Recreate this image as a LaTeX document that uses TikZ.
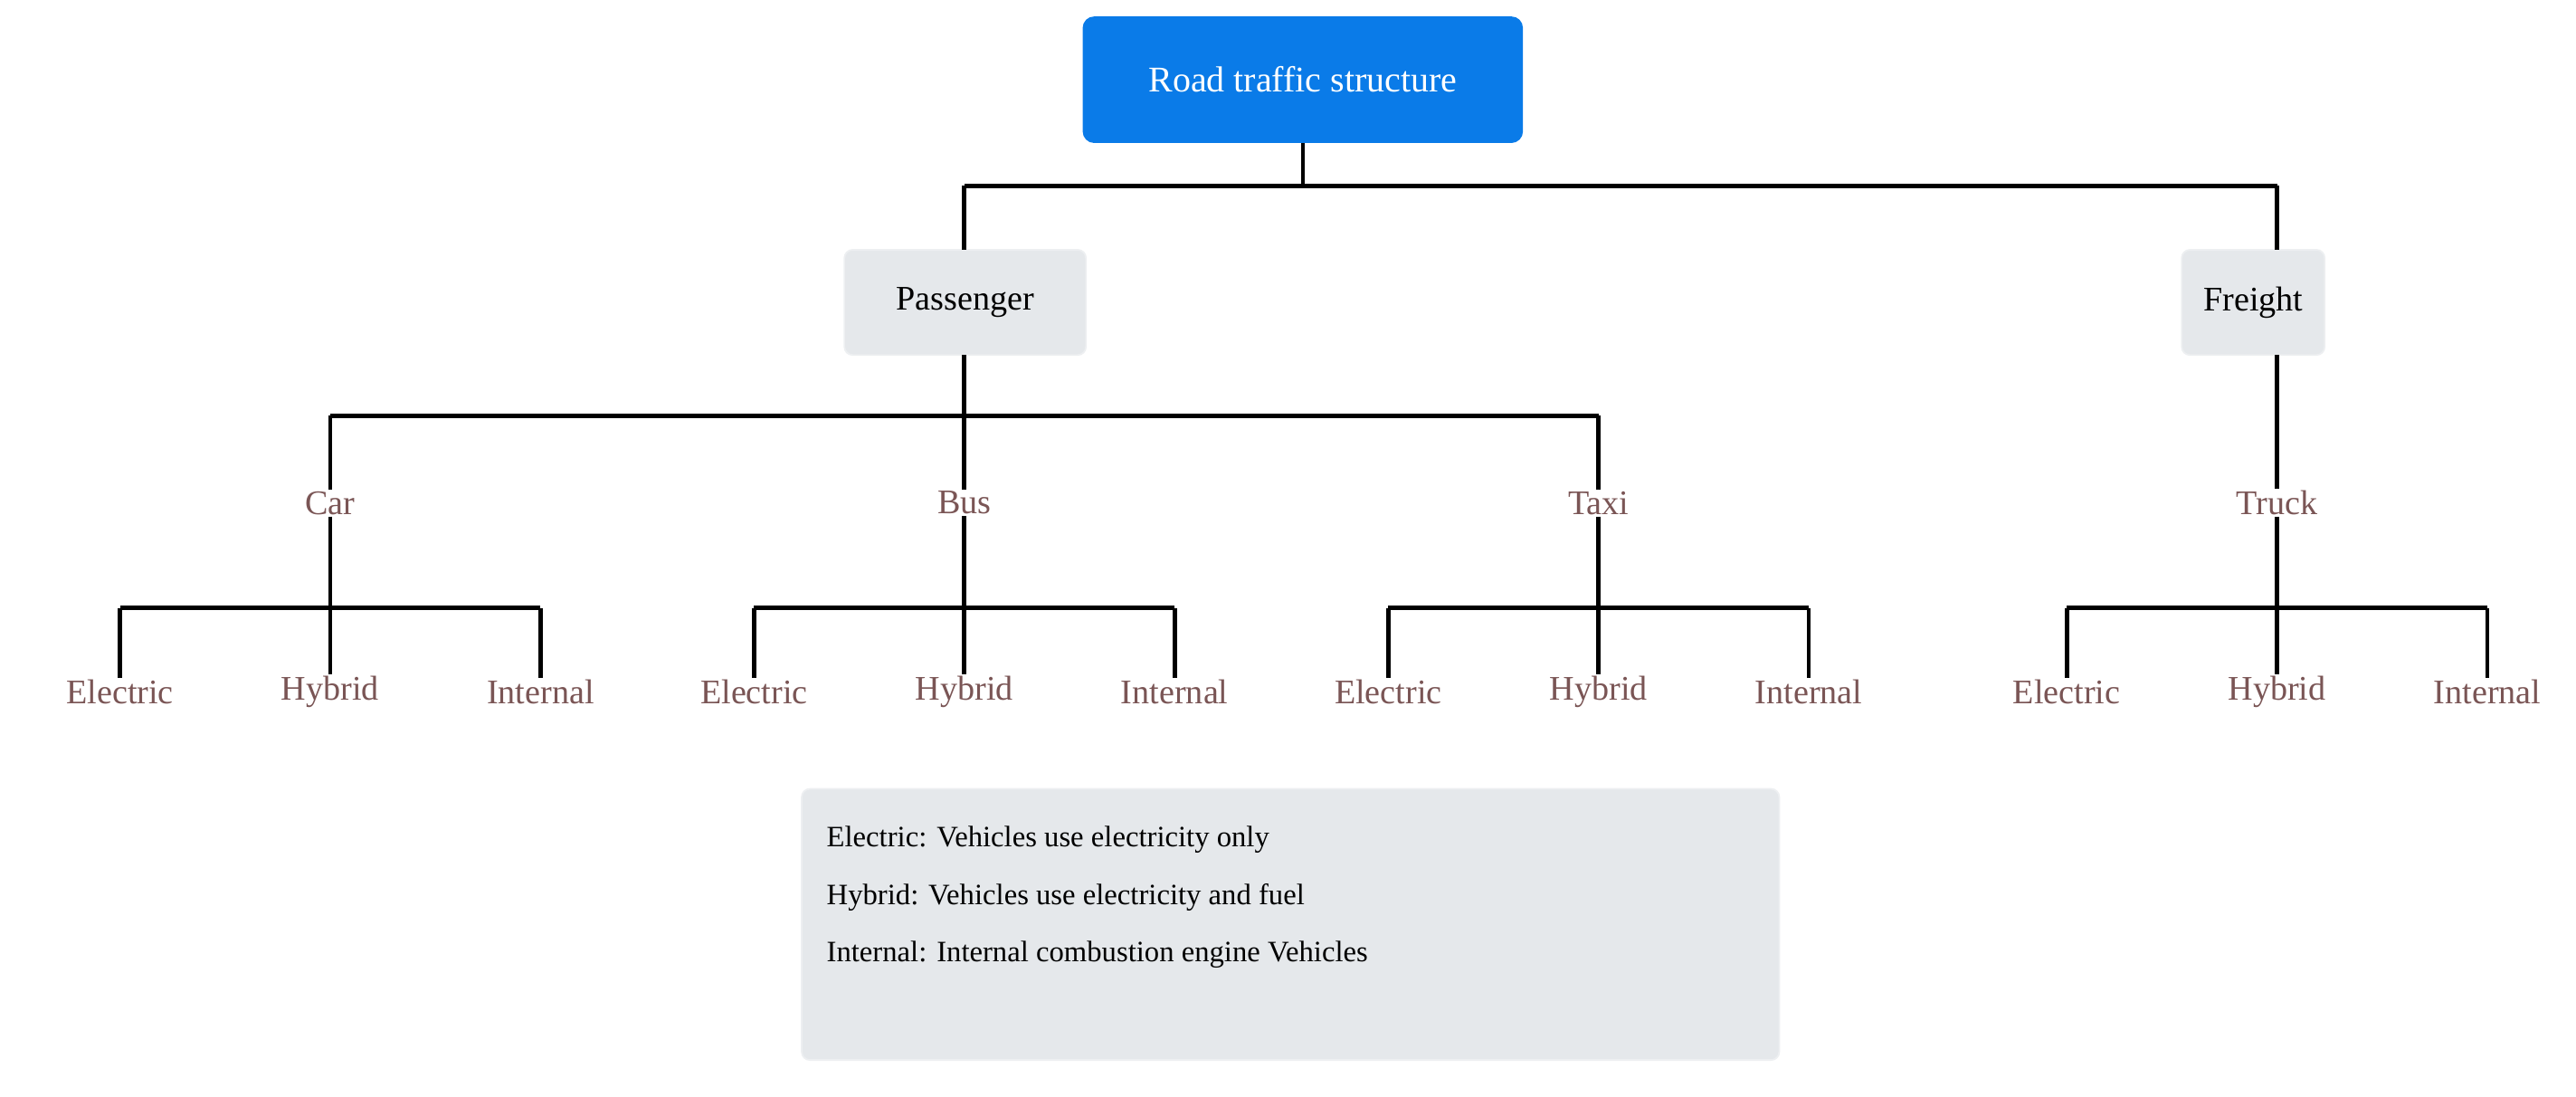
\documentclass[tikz,border=0pt]{standalone}
\usepackage{fontspec}
\setmainfont{Liberation Serif}
\begin{document}
\begin{tikzpicture}[x=1pt,y=-1pt,
  ln/.style={line width=2.6pt,black},
  leaf/.style={text=brn,font=\fontsize{21}{24}\selectfont,inner sep=1pt},
  gbox/.style={fill=gry,draw=gry!70!white,line width=1pt,rounded corners=5pt,font=\fontsize{21}{24}\selectfont}]
\definecolor{brn}{HTML}{7A5555}
\definecolor{gry}{HTML}{E5E8EB}
\definecolor{blu}{HTML}{0A7BE8}
\useasboundingbox (0,0) rectangle (1568,667);
\node[fill=blu,rounded corners=7pt,minimum width=268pt,minimum height=77pt,text=white,font=\fontsize{22}{26}\selectfont] (root) at (793,48.5) {Road traffic structure};
\node[gbox,minimum width=147pt,minimum height=64pt] (pas) at (587.5,184) {Passenger};
\node[gbox,minimum width=87pt,minimum height=64pt] (fre) at (1371.5,184) {Freight};
\draw[ln] (root.south) -- (793,113) coordinate (j0);
\draw[ln] (587,113) -- (1386,113);
\draw[ln] (587,113) -- (587,152);
\draw[ln] (1386,113) -- (1386,152);
\foreach \n/\x/\p in {car/201/Car,bus/587/Bus,taxi/973/Taxi,truck/1386/Truck}{
  \node[leaf] (\n) at (\x,306) {\p};
}
\draw[ln] (587,216) -- (bus.north);
\draw[ln] (201,253) -- (973,253);
\draw[ln] (201,253) -- (car.north);
\draw[ln] (973,253) -- (taxi.north);
\draw[ln] (1386,216) -- (truck.north);
\foreach \n/\x in {car/201,bus/587,taxi/973,truck/1386}{
  \node[leaf] (\n e) at (\x-128,421) {Electric};
  \node[leaf] (\n h) at (\x,421) {Hybrid};
  \node[leaf] (\n i) at (\x+128,421) {Internal};
  \draw[ln] (\n.south) -- (\n h.north);
  \draw[ln] (\x-128,370) -- (\x+128,370);
  \draw[ln] (\x-128,370) -- (\n e.north);
  \draw[ln] (\x+128,370) -- (\n i.north);
}
\node[gbox,minimum width=595pt,minimum height=165pt] (leg) at (785.5,562.5) {};
\begin{scope}[every node/.style={anchor=west,font=\fontsize{18}{21}\selectfont,inner sep=0pt}]
\node (l1) at (503,511) {Electric: Vehicles use electricity only};
\node (l2) at (503,546) {Hybrid: Vehicles use electricity and fuel};
\node (l3) at (503,581) {Internal: Internal combustion engine Vehicles};
\end{scope}
\end{tikzpicture}
\end{document}
